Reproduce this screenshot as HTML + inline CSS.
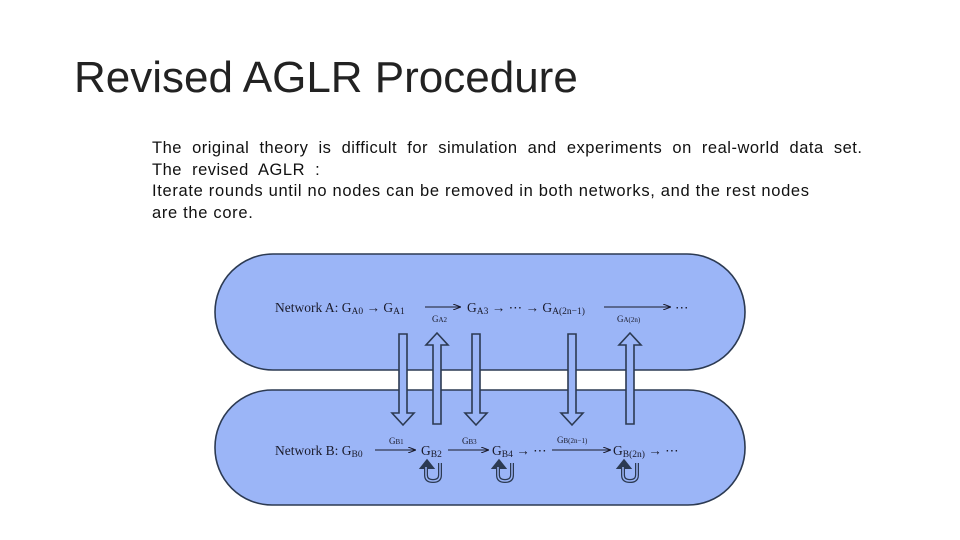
<!DOCTYPE html>
<html><head><meta charset="utf-8"><style>
body{margin:0;width:960px;height:540px;background:#fff;overflow:hidden;position:relative;font-family:"Liberation Sans",sans-serif}
.t{position:absolute;left:74px;top:53px;font-size:44px;color:#222}
.b{position:absolute;left:152px;top:138px;font-size:16.5px;letter-spacing:0.5px;line-height:21.5px;color:#111;white-space:nowrap}
.b span{letter-spacing:0.68px}
svg{position:absolute;left:0;top:0}
</style></head><body>
<div class="t">Revised AGLR Procedure</div>
<div class="b">The&nbsp; original&nbsp; theory&nbsp; is&nbsp; difficult&nbsp; for&nbsp; simulation&nbsp; and&nbsp; experiments&nbsp; on&nbsp; real-world&nbsp; data&nbsp; set.<br>The&nbsp; revised&nbsp; AGLR&nbsp; :<br><span>Iterate rounds until no nodes can be removed in both networks, and the rest nodes<br>are the core.</span></div>
<svg width="960" height="540" viewBox="0 0 960 540">
<defs>
<marker id="ah" markerWidth="8" markerHeight="6" refX="7" refY="3" orient="auto" markerUnits="userSpaceOnUse"><path d="M0,0 L8,3 L0,6" fill="none" stroke="#1a1a2a" stroke-width="1"/></marker>
<g id="dn"><path d="M-4,0 H4 V79 H11 L0,91 L-11,79 H-4 Z" fill="#9bb5f7" stroke="#2c3a52" stroke-width="1.6"/></g>
<g id="up"><path d="M-4,91 H4 V12 H11 L0,0 L-11,12 H-4 Z" fill="#9bb5f7" stroke="#2c3a52" stroke-width="1.6"/></g>
<g id="u"><path d="M-7,6 V14 Q-7,20 0,20 Q7,20 7,14 V2 M-7,6 L-10,6 L-6,1 L-2,6 Z" fill="none" stroke="#2c3a52" stroke-width="4"/><path d="M-7,6 V14 Q-7,20 0,20 Q7,20 7,14 V2" fill="none" stroke="#9bb5f7" stroke-width="1.5"/></g>
</defs>
<rect x="215" y="254" width="530" height="116" rx="58" fill="#9bb5f7" stroke="#2c3a52" stroke-width="1.6"/>
<rect x="215" y="390" width="530" height="115" rx="57" fill="#9bb5f7" stroke="#2c3a52" stroke-width="1.6"/>
<use href="#dn" x="403" y="334"/>
<use href="#up" x="437" y="333"/>
<use href="#dn" x="476" y="334"/>
<use href="#dn" x="572" y="334"/>
<use href="#up" x="630" y="333"/>
<g font-family="Liberation Serif,serif" fill="#1a1a2a" font-size="13.5">
<text x="275" y="312">Network A: G<tspan font-size="9.5" dy="2">A0</tspan><tspan dy="-2"> → G</tspan><tspan font-size="9.5" dy="2">A1</tspan></text>
<line x1="425" y1="307" x2="460" y2="307" stroke="#1a1a2a" stroke-width="1" marker-end="url(#ah)"/>
<text x="432" y="322" font-size="9">G<tspan font-size="7">A2</tspan></text>
<text x="467" y="312">G<tspan font-size="9.5" dy="2">A3</tspan><tspan dy="-2"> → ⋯ → G</tspan><tspan font-size="9.5" dy="2">A(2n−1)</tspan></text>
<line x1="604" y1="307" x2="670" y2="307" stroke="#1a1a2a" stroke-width="1" marker-end="url(#ah)"/>
<text x="617" y="322" font-size="9">G<tspan font-size="7">A(2n)</tspan></text>
<text x="675" y="312">⋯</text>
<text x="275" y="455">Network B: G<tspan font-size="9.5" dy="2">B0</tspan></text>
<line x1="375" y1="450" x2="415" y2="450" stroke="#1a1a2a" stroke-width="1" marker-end="url(#ah)"/>
<text x="389" y="444" font-size="9">G<tspan font-size="7">B1</tspan></text>
<text x="421" y="455">G<tspan font-size="9.5" dy="2">B2</tspan></text>
<line x1="448" y1="450" x2="488" y2="450" stroke="#1a1a2a" stroke-width="1" marker-end="url(#ah)"/>
<text x="462" y="444" font-size="9">G<tspan font-size="7">B3</tspan></text>
<text x="492" y="455">G<tspan font-size="9.5" dy="2">B4</tspan><tspan dy="-2"> → ⋯</tspan></text>
<line x1="552" y1="450" x2="610" y2="450" stroke="#1a1a2a" stroke-width="1" marker-end="url(#ah)"/>
<text x="557" y="443" font-size="9">G<tspan font-size="7">B(2n−1)</tspan></text>
<text x="613" y="455">G<tspan font-size="9.5" dy="2">B(2n)</tspan><tspan dy="-2"> → ⋯</tspan></text>
</g>
<use href="#u" x="433" y="461"/>
<use href="#u" x="505" y="461"/>
<use href="#u" x="630" y="461"/>
</svg>
</body></html>
